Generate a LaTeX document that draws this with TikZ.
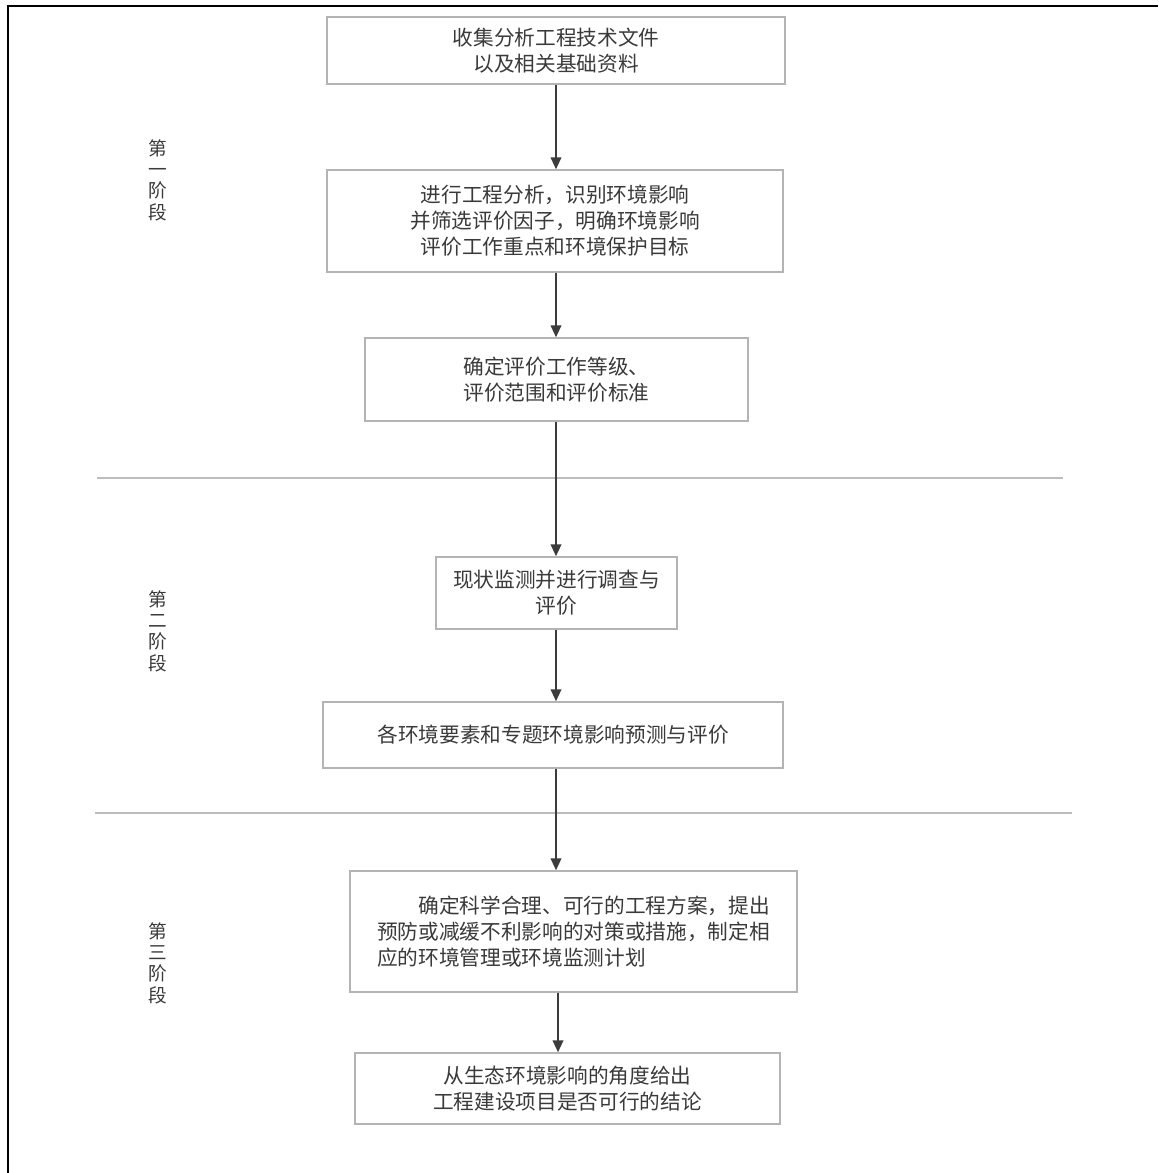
\documentclass[tikz,border=0pt]{standalone}
\usepackage{fontspec}
\newfontfamily\cjk{Noto Sans CJK SC}
\usetikzlibrary{calc,arrows.meta}
\definecolor{boxgray}{HTML}{B4B4B4}
\definecolor{txtgray}{HTML}{3A3A3A}
\definecolor{arrgray}{HTML}{3C3C3C}
\definecolor{sepgray}{HTML}{BDBDBD}
\tikzset{
  stepbox/.style={draw=boxgray, line width=1.1pt, fill=white, inner sep=0pt, align=center,
    text=txtgray, font=\cjk\fontsize{15.5}{19.5}\selectfont},
  stagelbl/.style={text=txtgray, align=center, inner sep=0pt, font=\cjk\fontsize{14}{16}\selectfont},
  flowarrow/.style={draw=arrgray, line width=1.4pt, -{Triangle[length=9pt,width=8pt]}},
  sepline/.style={draw=sepgray, line width=1.3pt},
  frameline/.style={draw=black, line width=1.6pt}
}
\begin{document}
\begin{tikzpicture}[x=0.75pt,y=-0.75pt]
\useasboundingbox (0,0) rectangle (1158,1173);
% frame
\coordinate (fTL) at (8,6);
\coordinate (fTR) at (1158,6);
\coordinate (fBL) at (8,1173);
\draw[frameline] (fBL) -- (fTL) -- (fTR);
% separators
\coordinate (s1a) at (97,478);
\coordinate (s1b) at (1063,478);
\coordinate (s2a) at (95,813);
\coordinate (s2b) at (1072,813);
\draw[sepline] (s1a) -- (s1b);
\draw[sepline] (s2a) -- (s2b);
% boxes
\node[stepbox, minimum width=458*0.75pt, minimum height=67*0.75pt] (b1) at (556,50.5)
  {收集分析工程技术文件\\以及相关基础资料};
\node[stepbox, minimum width=456*0.75pt, minimum height=102*0.75pt] (b2) at (555,221)
  {进行工程分析，识别环境影响\\并筛选评价因子，明确环境影响\\评价工作重点和环境保护目标};
\node[stepbox, minimum width=383*0.75pt, minimum height=83*0.75pt] (b3) at (556.5,379.5)
  {确定评价工作等级、\\评价范围和评价标准};
\node[stepbox, minimum width=241*0.75pt, minimum height=72*0.75pt] (b4) at (556.5,593)
  {现状监测并进行调查与\\评价};
\node[stepbox, minimum width=460*0.75pt, minimum height=66*0.75pt] (b5) at (553,735)
  {各环境要素和专题环境影响预测与评价};
\node[stepbox, minimum width=447*0.75pt, minimum height=121*0.75pt, align=left] (b6) at (573.5,931.5)
  {\hspace*{2em}确定科学合理、可行的工程方案，提出\\预防或减缓不利影响的对策或措施，制定相\\应的环境管理或环境监测计划};
\node[stepbox, minimum width=425*0.75pt, minimum height=71*0.75pt] (b7) at (567.5,1088.5)
  {从生态环境影响的角度给出\\工程建设项目是否可行的结论};
% stage labels
\node[stagelbl] (st1) at (158,180) {第\\一\\阶\\段};
\node[stagelbl] (st2) at (158,631) {第\\二\\阶\\段};
\node[stagelbl] (st3) at (158,963) {第\\三\\阶\\段};
% arrows
\draw[flowarrow] (b1.south) -- (b1.south |- b2.north);
\draw[flowarrow] ($(b2.south)+(1,0)$) -- ($(b2.south |- b3.north)+(1,0)$);
\draw[flowarrow] ($(b3.south)+(-0.5,0)$) -- ($(b3.south |- b4.north)+(-0.5,0)$);
\draw[flowarrow] ($(b4.south)+(-0.5,0)$) -- ($(b4.south |- b5.north)+(-0.5,0)$);
\draw[flowarrow] ($(b5.south)+(3,0)$) -- ($(b5.south |- b6.north)+(3,0)$);
\draw[flowarrow] ($(b6.south)+(-15.5,0)$) -- ($(b6.south |- b7.north)+(-15.5,0)$);
\end{tikzpicture}
\end{document}
